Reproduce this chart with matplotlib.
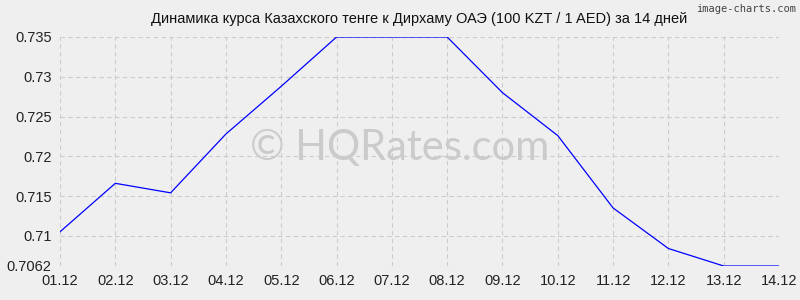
import matplotlib
matplotlib.use('Agg')
from matplotlib import pyplot as plt

dates = ['01.12', '02.12', '03.12', '04.12', '05.12', '06.12', '07.12',
         '08.12', '09.12', '10.12', '11.12', '12.12', '13.12', '14.12']
rates = [0.7105, 0.7166, 0.7154, 0.7228, 0.7288, 0.735, 0.735,
         0.735, 0.7280, 0.7226, 0.7135, 0.7084, 0.7062, 0.7062]
y_ticks = [0.7062, 0.71, 0.715, 0.72, 0.725, 0.73, 0.735]
y_labels = ['0.7062', '0.71', '0.715', '0.72', '0.725', '0.73', '0.735']

bg = '#efefef'
plt.rcParams['font.family'] = ['Liberation Sans', 'DejaVu Sans']

fig = plt.figure(figsize=(8, 3), dpi=100, facecolor=bg)
ax = fig.add_axes([60 / 800, 1 - 266 / 300, (779 - 60) / 800, (266 - 37) / 300])
ax.set_facecolor(bg)

# watermark behind the line
ax.text(0.473, 0.515, '© HQRates.com', fontsize=30, color='#cbcbcb',
        ha='center', va='center', transform=ax.transAxes, zorder=1,
        family=['Lato', 'DejaVu Sans'])

x = list(range(len(dates)))
ax.plot(x, rates, color='#0000ff', linewidth=0.9, zorder=3)

ax.set_xlim(0, len(dates) - 1)
ax.set_ylim(y_ticks[0], y_ticks[-1])
ax.set_xticks(x)
ax.set_xticklabels(dates, fontsize=10.5)
ax.set_yticks(y_ticks)
ax.set_yticklabels(y_labels, fontsize=10.5)
ax.tick_params(length=0, pad=6, colors='#222222')
ax.grid(True, color='#cccccc', linestyle=(0, (4, 3)), linewidth=0.8, zorder=0)
ax.set_axisbelow(True)
for s in ax.spines.values():
    s.set_visible(False)

ax.set_title('Динамика курса Казахского тенге к Дирхаму ОАЭ (100 KZT / 1 AED) за 14 дней',
             fontsize=10.5, pad=10, color='#111111')

fig.text(0.995, 0.985, 'image-charts.com', fontsize=7.5, color='#444444',
         ha='right', va='top', family='DejaVu Sans Mono')

fig.savefig('out.png', dpi=100, facecolor=bg)
